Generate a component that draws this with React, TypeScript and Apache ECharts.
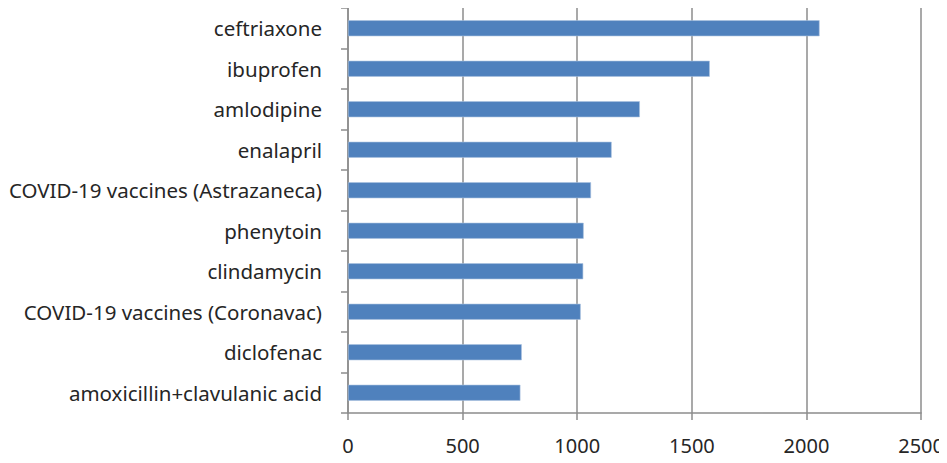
import React, { useEffect, useRef } from "react";
import * as echarts from "echarts";

// Drug names, top to bottom
const drugs: string[] = [
  "ceftriaxone",
  "ibuprofen",
  "amlodipine",
  "enalapril",
  "COVID-19 vaccines (Astrazaneca)",
  "phenytoin",
  "clindamycin",
  "COVID-19 vaccines (Coronavac)",
  "diclofenac",
  "amoxicillin+clavulanic acid",
];

// Report counts per drug
const counts: number[] = [2057, 1578, 1273, 1150, 1060, 1028, 1026, 1015, 758, 752];

// Value axis range
const xMin = 0;
const xMax = 2500;
const xStep = 500;

const FONT = "'Noto Sans', sans-serif";
const LINE = "#8C8C8C";
const TEXT = "#262626";

export default function App() {
  const ref = useRef<HTMLDivElement>(null);

  useEffect(() => {
    if (!ref.current) return;
    const chart = echarts.init(ref.current, null, { renderer: "svg" });
    chart.setOption({
      animation: false,
      backgroundColor: "#ffffff",
      grid: { left: 348, right: 24, top: 8, bottom: 50, containLabel: false },
      xAxis: {
        type: "value",
        min: xMin,
        max: xMax,
        interval: xStep,
        axisLine: { show: true, lineStyle: { color: LINE, width: 1.5 } },
        axisTick: { show: true, length: 7, lineStyle: { color: LINE, width: 1.5 } },
        splitLine: { show: true, lineStyle: { color: LINE, width: 1.5 } },
        axisLabel: {
          margin: 22,
          color: TEXT,
          fontFamily: FONT,
          fontSize: 20,
          formatter: (v: number) => String(v),
        },
      },
      yAxis: {
        type: "category",
        data: drugs,
        inverse: true,
        axisLine: { show: true, lineStyle: { color: LINE, width: 1.5 } },
        axisTick: { show: true, length: 7, lineStyle: { color: LINE, width: 1.5 } },
        splitLine: { show: false },
        axisLabel: {
          margin: 26,
          color: TEXT,
          fontFamily: FONT,
          fontSize: 20.5,
        },
      },
      series: [
        {
          type: "bar",
          data: counts,
          barWidth: 16,
          itemStyle: { color: "#4F81BD", borderColor: "#A9C1DF", borderWidth: 0.6 },
        },
      ],
    });
    return () => chart.dispose();
  }, []);

  return <div ref={ref} style={{ width: 947, height: 463, margin: -8 }} />;
}
